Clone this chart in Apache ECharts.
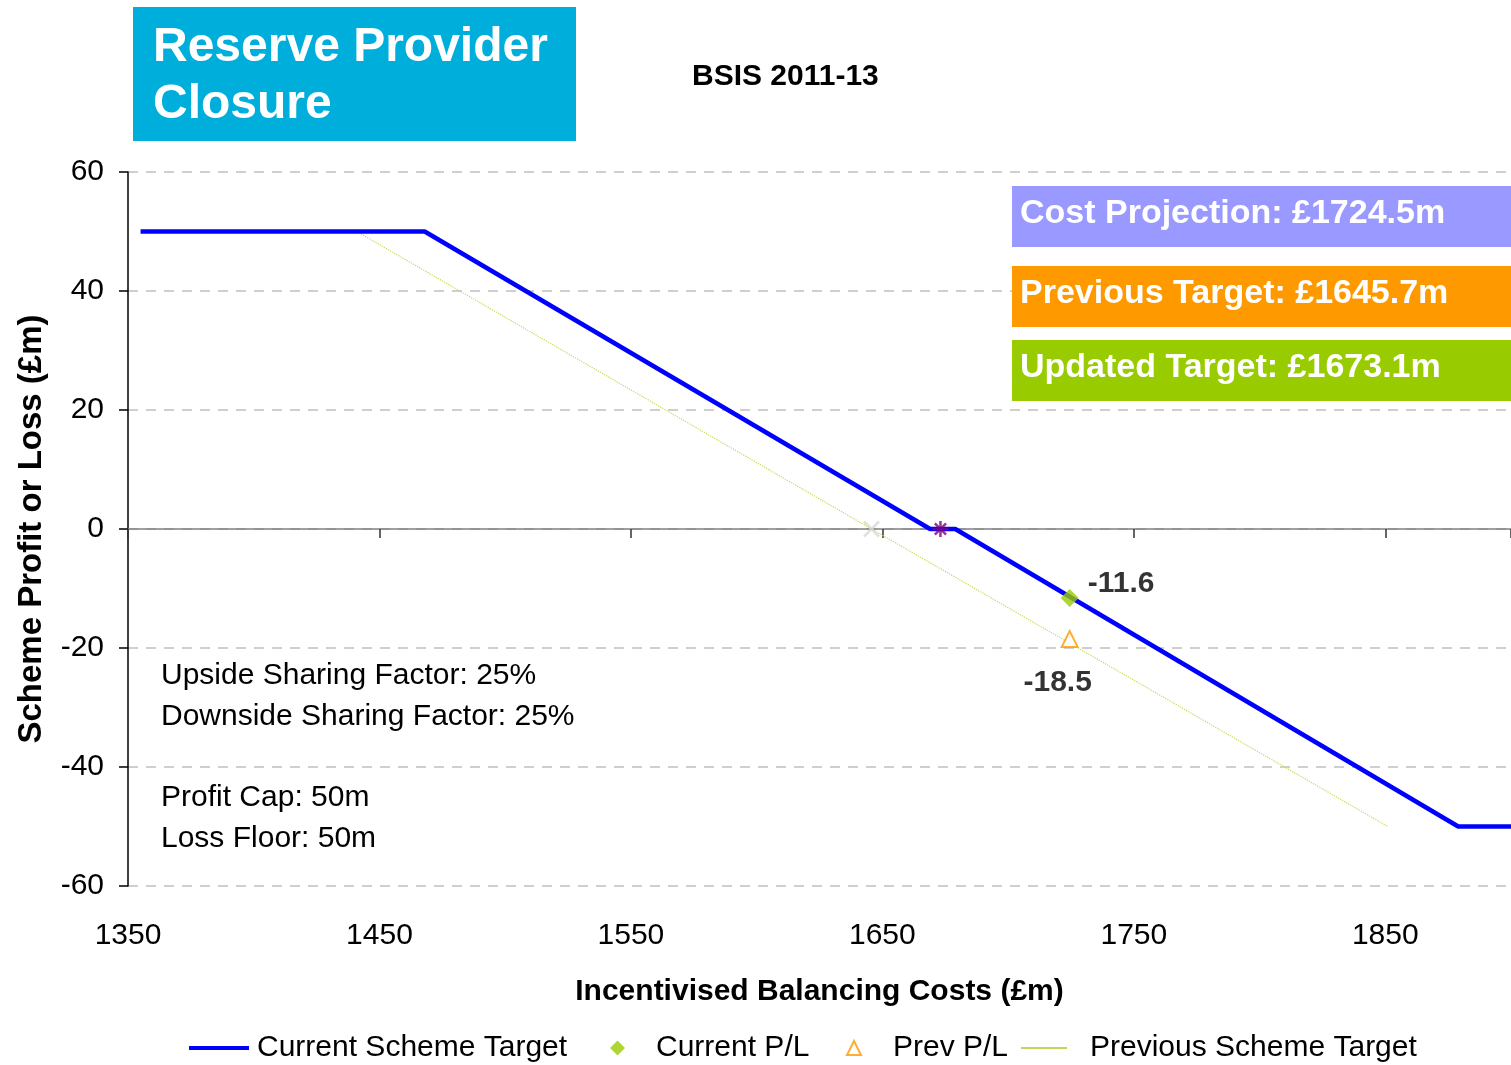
<!DOCTYPE html>
<html>
<head>
<meta charset="utf-8">
<script src="https://cdn.jsdelivr.net/npm/echarts@6/dist/echarts.min.js"></script>
<style>
  html, body { margin: 0; padding: 0; background: #fff; }
  #main { width: 1511px; height: 1065px; }
</style>
</head>
<body>
<div id="main"></div>
<script>
// current scheme target (with deadband around 1673.1)
const currentTargetX = [1355, 1468, 1669, 1679, 1879, 1900]
const currentTargetY = [50, 50, 0, 0, -50, -50]
// previous scheme target
const previousTargetX = [1441, 1645.7, 1851]
const previousTargetY = [50, 0, -50]
// P/L points at cost projection
const costProjection = 1724.5
const currentPL = -11.6
const prevPL = -18.5
const updatedTarget = 1673.1
const previousTarget = 1645.7

const infoBoxes = [
    { text: 'Cost Projection: £1724.5m', color: '#9999FF' },
    { text: 'Previous Target: £1645.7m', color: '#FF9900' },
    { text: 'Updated Target: £1673.1m', color: '#99CC00' }
]
const notes = ['Upside Sharing Factor: 25%', 'Downside Sharing Factor: 25%', 'Profit Cap: 50m', 'Loss Floor: 50m']

const font = 'Liberation Sans, Arial, sans-serif'
const zip = (xs, ys) => xs.map((x, i) => [x, ys[i]])

const chartDom = document.getElementById('main')
const myChart = echarts.init(chartDom)

const boxTop = [186, 266, 340]
const noteY = [676, 717, 798, 839]

const graphic = [
    {
        type: 'rect', z: 100,
        shape: { x: 133, y: 7, width: 443, height: 134 },
        style: { fill: '#00AEDB' }
    },
    {
        type: 'text', z: 101, x: 153, y: 19,
        style: {
            text: 'Reserve Provider\nClosure',
            fill: '#fff', font: 'bold 48px ' + font, lineHeight: 57
        }
    }
]
infoBoxes.forEach((b, i) => {
    graphic.push({
        type: 'rect', z: 100,
        shape: { x: 1012, y: boxTop[i], width: 499, height: 61 },
        style: { fill: b.color }
    })
    graphic.push({
        type: 'text', z: 101, x: 1020, y: boxTop[i] + 28,
        style: { text: b.text, fill: '#fff', font: 'bold 34px ' + font, verticalAlign: 'middle' }
    })
})
notes.forEach((t, i) => {
    graphic.push({
        type: 'text', z: 101, x: 161, y: noteY[i],
        style: { text: t, fill: '#000', font: '30px ' + font, verticalAlign: 'middle' }
    })
})

const legendBase = {
    top: 1028,
    textStyle: { fontSize: 30, color: '#000' }
}

const option = {
    animation: false,
    textStyle: { fontFamily: font },
    title: {
        text: 'BSIS 2011-13',
        left: 687,
        top: 57,
        textStyle: { fontSize: 30, fontWeight: 'bold', color: '#000' }
    },
    graphic,
    legend: [
        Object.assign({}, legendBase, {
            left: 184, itemWidth: 60, itemHeight: 4,
            data: [{ name: 'Current Scheme Target', icon: 'rect' }],
            textStyle: { fontSize: 30, color: '#000', padding: [0, 0, 0, 3] }
        }),
        Object.assign({}, legendBase, {
            left: 605, itemWidth: 15, itemHeight: 15,
            data: [{ name: 'Current P/L', icon: 'diamond' }],
            textStyle: { fontSize: 30, color: '#000', padding: [0, 0, 0, 26] }
        }),
        Object.assign({}, legendBase, {
            left: 841, itemWidth: 14, itemHeight: 14,
            data: [{
                name: 'Prev P/L', icon: 'triangle',
                itemStyle: { color: '#fff', borderColor: '#FF9900', borderWidth: 2 }
            }],
            textStyle: { fontSize: 30, color: '#000', padding: [0, 0, 0, 27] }
        }),
        Object.assign({}, legendBase, {
            left: 1016, itemWidth: 46, itemHeight: 1.5,
            data: [{ name: 'Previous Scheme Target', icon: 'rect', itemStyle: { color: '#A8CC22' } }],
            textStyle: { fontSize: 30, color: '#000', padding: [0, 0, 0, 18] }
        })
    ],
    grid: {
        left: 128,
        top: 172,
        width: 1386,
        height: 714
    },
    xAxis: [
        {
            type: 'value',
            min: 1350,
            max: 1900,
            interval: 100,
            name: 'Incentivised Balancing Costs (£m)',
            nameLocation: 'middle',
            nameGap: 91,
            nameTextStyle: { fontSize: 30, fontWeight: 'bold', color: '#000' },
            axisLine: { show: false, onZero: false },
            axisTick: { show: false },
            splitLine: { show: false },
            axisLabel: { fontSize: 30, color: '#000', margin: 35, showMaxLabel: false, formatter: (v) => String(v) }
        },
        {
            type: 'value',
            position: 'top',
            min: 1350,
            max: 1900,
            interval: 100,
            axisLine: { show: true, onZero: true, lineStyle: { color: '#808080', width: 1.5 } },
            axisTick: { show: true, inside: true, length: 9, lineStyle: { color: '#333', width: 1.5 } },
            axisLabel: { show: false },
            splitLine: { show: false }
        }
    ],
    yAxis: {
        type: 'value',
        min: -60,
        max: 60,
        interval: 20,
        name: 'Scheme Profit or Loss (£m)',
        nameLocation: 'middle',
        nameGap: 80,
        nameTextStyle: { fontSize: 33, fontWeight: 'bold', color: '#000' },
        axisLine: { show: true, onZero: false, lineStyle: { color: '#000', width: 1.5 } },
        axisTick: { show: true, length: 9, lineStyle: { color: '#000', width: 1.5 } },
        axisLabel: { fontSize: 30, color: '#000', margin: 24 },
        splitLine: { show: true, lineStyle: { color: '#c0c0c0', type: [10, 8], width: 1.5 } }
    },
    series: [
        {
            name: 'Current Scheme Target',
            type: 'line',
            symbol: 'none',
            z: 5,
            color: '#0000FF',
            lineStyle: { color: '#0000FF', width: 4.5 },
            data: zip(currentTargetX, currentTargetY)
        },
        {
            name: 'Current P/L',
            type: 'scatter',
            symbol: 'diamond',
            symbolSize: 18,
            z: 6,
            itemStyle: { color: '#99CC00' },
            label: {
                show: true,
                position: 'right',
                offset: [4, -14],
                formatter: (p) => p.value[1].toFixed(1),
                fontSize: 30,
                fontWeight: 'bold',
                color: '#000'
            },
            data: [[costProjection, currentPL]]
        },
        {
            name: 'Prev P/L',
            type: 'scatter',
            symbol: 'triangle',
            symbolSize: 16,
            z: 6,
            itemStyle: { color: '#fff', borderColor: '#FF9900', borderWidth: 2 },
            label: {
                show: true,
                position: 'bottom',
                offset: [-12, 15],
                formatter: (p) => p.value[1].toFixed(1),
                fontSize: 30,
                fontWeight: 'bold',
                color: '#000'
            },
            data: [[costProjection, prevPL]]
        },
        {
            name: 'Previous Scheme Target',
            type: 'line',
            symbol: 'none',
            z: 3,
            color: '#A8CC22',
            lineStyle: { color: '#C4DB55', width: 1.2, type: 'dotted' },
            data: zip(previousTargetX, previousTargetY)
        },
        {
            name: 'Updated Target',
            type: 'scatter',
            symbol: 'path://M5,0L5,10M0,5L10,5M1.5,1.5L8.5,8.5M8.5,1.5L1.5,8.5',
            symbolSize: 16,
            z: 7,
            itemStyle: { color: 'transparent', borderColor: '#800080', borderWidth: 2.5 },
            data: [[updatedTarget, 0]]
        },
        {
            name: 'Previous Target',
            type: 'scatter',
            symbol: 'path://M0,0L10,10M10,0L0,10',
            symbolSize: 15,
            z: 4,
            itemStyle: { color: 'transparent', borderColor: '#d8d8d8', borderWidth: 2.5 },
            data: [[previousTarget, 0]]
        }
    ]
}

option && myChart.setOption(option)
</script>
</body>
</html>
